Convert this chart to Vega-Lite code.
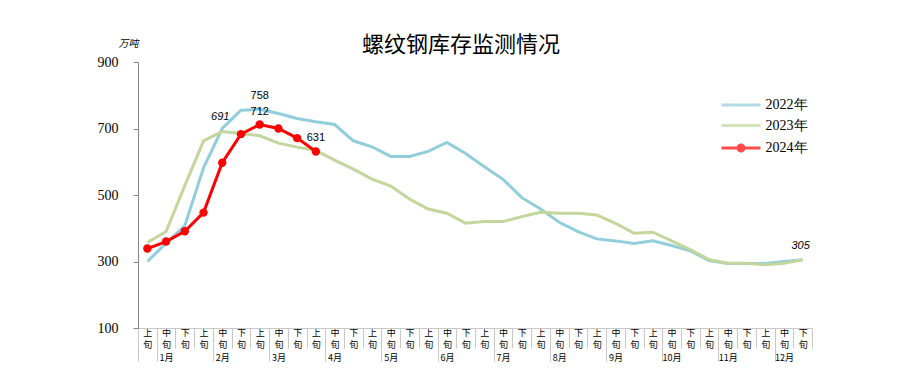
{
  "$schema": "https://vega.github.io/schema/vega-lite/v6.json",
  "width": 674,
  "height": 266,
  "autosize": {"type": "none"},
  "padding": {"left": 138, "top": 62, "right": 105, "bottom": 63},
  "background": "white",
  "title": {"text": "螺纹钢库存监测情况", "font": "Noto Sans CJK SC", "fontSize": 22, "fontWeight": "normal", "color": "#000000", "anchor": "middle", "dx": -14, "offset": -19},
  "config": {"view": {"stroke": null}},
  "datasets": {
    "d": [
      {"i":0,"year":"2022年","v":300},{"i":1,"year":"2022年","v":355},{"i":2,"year":"2022年","v":408},{"i":3,"year":"2022年","v":582},{"i":4,"year":"2022年","v":700},{"i":5,"year":"2022年","v":755},{"i":6,"year":"2022年","v":758,"label":"758"},{"i":7,"year":"2022年","v":745},{"i":8,"year":"2022年","v":730},{"i":9,"year":"2022年","v":720},{"i":10,"year":"2022年","v":712},{"i":11,"year":"2022年","v":663},{"i":12,"year":"2022年","v":645},{"i":13,"year":"2022年","v":616},{"i":14,"year":"2022年","v":616},{"i":15,"year":"2022年","v":631},{"i":16,"year":"2022年","v":658},{"i":17,"year":"2022年","v":625},{"i":18,"year":"2022年","v":585},{"i":19,"year":"2022年","v":547},{"i":20,"year":"2022年","v":492},{"i":21,"year":"2022年","v":458},{"i":22,"year":"2022年","v":418},{"i":23,"year":"2022年","v":390},{"i":24,"year":"2022年","v":368},{"i":25,"year":"2022年","v":362},{"i":26,"year":"2022年","v":354},{"i":27,"year":"2022年","v":362},{"i":28,"year":"2022年","v":348},{"i":29,"year":"2022年","v":332},{"i":30,"year":"2022年","v":303},{"i":31,"year":"2022年","v":294},{"i":32,"year":"2022年","v":294},{"i":33,"year":"2022年","v":294},{"i":34,"year":"2022年","v":300},{"i":35,"year":"2022年","v":305},
      {"i":0,"year":"2023年","v":357},{"i":1,"year":"2023年","v":390},{"i":2,"year":"2023年","v":528},{"i":3,"year":"2023年","v":663},{"i":4,"year":"2023年","v":691,"label":"691"},{"i":5,"year":"2023年","v":685},{"i":6,"year":"2023年","v":678},{"i":7,"year":"2023年","v":656},{"i":8,"year":"2023年","v":644},{"i":9,"year":"2023年","v":634},{"i":10,"year":"2023年","v":605},{"i":11,"year":"2023年","v":578},{"i":12,"year":"2023年","v":548},{"i":13,"year":"2023年","v":527},{"i":14,"year":"2023年","v":488},{"i":15,"year":"2023年","v":458},{"i":16,"year":"2023年","v":445},{"i":17,"year":"2023年","v":415},{"i":18,"year":"2023年","v":420},{"i":19,"year":"2023年","v":420},{"i":20,"year":"2023年","v":435},{"i":21,"year":"2023年","v":448},{"i":22,"year":"2023年","v":445},{"i":23,"year":"2023年","v":445},{"i":24,"year":"2023年","v":440},{"i":25,"year":"2023年","v":415},{"i":26,"year":"2023年","v":385},{"i":27,"year":"2023年","v":388},{"i":28,"year":"2023年","v":362},{"i":29,"year":"2023年","v":336},{"i":30,"year":"2023年","v":306},{"i":31,"year":"2023年","v":295},{"i":32,"year":"2023年","v":295},{"i":33,"year":"2023年","v":290},{"i":34,"year":"2023年","v":295},{"i":35,"year":"2023年","v":305,"label":"305"},
      {"i":0,"year":"2024年","v":339},{"i":1,"year":"2024年","v":360},{"i":2,"year":"2024年","v":391},{"i":3,"year":"2024年","v":447},{"i":4,"year":"2024年","v":597},{"i":5,"year":"2024年","v":683},{"i":6,"year":"2024年","v":712,"label":"712"},{"i":7,"year":"2024年","v":700},{"i":8,"year":"2024年","v":671},{"i":9,"year":"2024年","v":631,"label":"631"}
    ]
  },
  "data": {"name": "d"},
  "encoding": {
    "x": {
      "field": "i",
      "type": "ordinal",
      "scale": {"type": "band", "paddingInner": 0, "paddingOuter": 0},
      "axis": {
        "title": null,
        "tickBand": "extent",
        "labelAngle": 0,
        "labelExpr": "datum.extra ? '' : (datum.value % 3 == 1 ? ['中', '旬', (floor(datum.value / 3) + 1) + '月'] : [datum.value % 3 == 0 ? '上' : '下', '旬'])",
        "labelFont": "Noto Sans CJK SC",
        "labelFontSize": 9,
        "labelLineHeight": 12.5,
        "labelBaseline": "top",
        "labelAlign": "center",
        "labelColor": "#000000",
        "labelPadding": {"condition": {"test": "datum.value % 3 == 0", "value": -33}, "value": -20},
        "tickSize": {"condition": {"test": "datum.value % 3 == 0 || datum.extra", "value": 33}, "value": 20},
        "tickColor": "#c8c8c8",
        "domainColor": "#c8c8c8",
        "grid": false
      }
    },
    "y": {
      "field": "v",
      "type": "quantitative",
      "scale": {"domain": [100, 900], "nice": false, "zero": false},
      "axis": {
        "values": [100, 300, 500, 700, 900],
        "grid": false,
        "domainColor": "#868686",
        "tickColor": "#868686",
        "tickSize": 5,
        "labelPadding": 15,
        "labelFont": "Liberation Serif",
        "labelFontSize": 14,
        "labelColor": "#000000",
        "title": "万吨",
        "titleAngle": 0,
        "titleX": -10,
        "titleY": -14,
        "titleAlign": "center",
        "titleFont": "Noto Sans CJK SC",
        "titleFontSize": 10,
        "titleFontStyle": "italic",
        "titleFontWeight": "normal",
        "titleColor": "#000000"
      }
    }
  },
  "layer": [
    {
      "mark": {"type": "line", "strokeWidth": 3},
      "encoding": {
        "stroke": {
          "field": "year",
          "type": "nominal",
          "scale": {"domain": ["2022年", "2023年", "2024年"], "range": ["#92CDDC", "#C3D69B", "#FF0000"]}
        }
      }
    },
    {
      "transform": [{"filter": "datum.year == '2024年'"}],
      "mark": {"type": "point", "filled": true, "size": 70, "color": "#FF0000", "opacity": 1}
    },
    {
      "transform": [{"filter": "datum.label != null && datum.year != '2023年'"}],
      "mark": {"type": "text", "dy": -13, "font": "Liberation Sans", "fontSize": 11, "color": "#000000"},
      "encoding": {"text": {"field": "label"}}
    },
    {
      "transform": [{"filter": "datum.label != null && datum.year == '2023年'"}],
      "mark": {"type": "text", "dy": -14, "dx": -2, "font": "Liberation Sans", "fontSize": 11, "fontStyle": "italic", "color": "#000000"},
      "encoding": {"text": {"field": "label"}}
    },
    {
      "mark": {"type": "point", "filled": false, "size": 0, "strokeWidth": 0},
      "encoding": {
        "stroke": {
          "field": "year",
          "type": "nominal",
          "scale": {"domain": ["2022年", "2023年", "2024年"], "range": ["#92CDDC", "#C3D69B", "#FF0000"]},
          "legend": {"title": null, "orient": "none", "legendX": 596, "legendY": 36, "symbolSize": 100, "symbolStrokeWidth": 3, "symbolFillColor": "#FF0000", "labelFont": "Liberation Serif", "labelFontSize": 14, "labelColor": "#000000", "labelOffset": 17.5, "rowPadding": 6.5}
        },
        "shape": {
          "field": "year",
          "type": "nominal",
          "scale": {"domain": ["2022年", "2023年", "2024年"], "range": ["M-3.9,0H3.9", "M-3.9,0H3.9", "M-3.9,0H3.9M0.6,0A0.6,0.6,0,1,1,-0.6,0A0.6,0.6,0,1,1,0.6,0Z"]},
          "legend": {"title": null, "orient": "none", "legendX": 596, "legendY": 36, "symbolSize": 100, "symbolStrokeWidth": 3, "symbolFillColor": "#FF0000", "labelFont": "Liberation Serif", "labelFontSize": 14, "labelColor": "#000000", "labelOffset": 17.5, "rowPadding": 6.5}
        }
      }
    }
  ]
}
